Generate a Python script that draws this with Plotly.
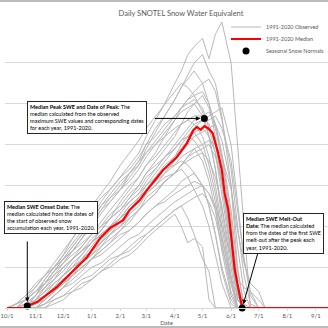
import plotly.graph_objects as go

# ---------------- data ----------------
# water-year calendar: Oct-Dec belong to 2021, Jan-Sep to 2022
GRID_DATES = ["10-01", "10-11", "10-21", "11-01", "11-11", "11-21", "12-01", "12-11", "12-21",
              "01-01", "01-11", "01-21", "02-01", "02-11", "02-21", "03-01", "03-11", "03-21",
              "04-01", "04-08", "04-15", "04-22", "05-01", "05-08", "05-15", "05-22",
              "06-01", "06-08", "06-15", "06-22", "07-01", "07-08"]

OBS_YEARS = list(range(1991, 2021))
OBS_SWE = [
    [0,0,1,3,6,9,12,15,18,22,26,29,32,35,38,42,46,50,55,58,62,64,66,61,67,70,60,40,18,0,0,0],
    [0,0,0,2,5,8,11,14,17,20,24,27,29,32,35,39,43,47,51,54,57,60,62,58,55,47,30,10,0,0,0,0],
    [0,0,2,4,6,9,12,14,17,21,24,26,29,33,36,40,44,47,51,54,56,58,55,50,42,30,14,2,0,0,0,0],
    [0,0,0,1,3,5,8,11,13,16,19,22,26,29,32,35,38,42,46,49,51,53,55,56,53,46,34,20,8,1,0,0],
    [0,1,3,5,8,11,14,17,21,25,28,31,35,38,41,44,47,50,53,55,54,52,48,42,34,22,8,0,0,0,0,0],
    [0,0,0,1,3,6,8,10,13,16,19,22,24,27,30,33,36,39,42,45,48,50,52,49,44,36,20,4,0,0,0,0],
    [0,0,1,3,6,9,11,14,17,20,23,26,29,31,34,37,40,43,46,48,49,50,47,42,34,24,10,0,0,0,0,0],
    [0,0,0,0,2,4,7,9,12,15,18,20,23,26,28,31,34,37,40,42,44,46,47,48,45,38,24,9,1,0,0,0],
    [0,0,0,2,4,6,8,10,12,14,16,19,22,25,27,30,33,36,39,41,43,45,46,46,47,44,36,24,12,4,0,0],
    [0,0,2,5,8,10,12,15,18,21,25,28,31,33,36,38,41,44,47,49,51,52,53,50,45,37,22,6,0,0,0,0],
    [0,1,2,4,7,10,13,16,19,22,25,27,30,33,35,38,40,42,44,45,46,45,42,37,30,20,7,0,0,0,0,0],
    [0,0,0,0,1,3,5,8,11,13,16,18,21,24,27,29,32,35,37,40,42,44,46,47,48,49,40,26,12,3,0,0],
    [0,0,0,3,7,10,13,17,20,24,27,29,32,34,37,40,42,45,47,49,50,51,49,44,38,28,13,2,0,0,0,0],
    [0,0,0,1,3,5,7,9,12,14,17,19,21,24,26,29,31,34,37,39,41,43,44,42,38,30,16,3,0,0,0,0],
    [0,0,1,3,5,7,10,12,14,17,19,22,24,27,29,32,34,37,39,41,42,41,38,33,26,16,4,0,0,0,0,0],
    [0,0,0,0,1,3,5,7,9,12,14,16,19,21,24,26,28,31,33,35,37,38,39,40,37,31,19,6,0,0,0,0],
    [0,1,3,6,8,10,12,14,16,18,20,23,25,28,30,33,35,37,39,41,42,43,40,35,28,18,6,0,0,0,0,0],
    [0,0,0,2,4,6,8,10,12,14,16,18,20,22,24,27,29,31,33,35,36,37,38,36,32,25,12,2,0,0,0,0],
    [0,0,0,0,2,4,6,9,11,13,15,18,20,23,25,28,30,33,36,38,40,42,43,44,45,41,30,15,4,0,0,0],
    [0,0,2,4,6,9,11,13,15,18,20,22,24,26,28,30,32,34,35,36,35,33,30,25,18,9,1,0,0,0,0,0],
    [0,0,0,1,2,4,6,8,10,12,15,17,19,22,24,26,28,31,33,35,37,39,40,41,40,37,29,19,11,6,4,0],
    [0,0,0,2,5,7,9,12,14,16,18,20,22,25,27,29,31,33,35,37,38,39,36,31,24,14,3,0,0,0,0,0],
    [0,0,0,1,2,4,6,8,10,12,13,15,17,19,21,23,25,27,29,31,32,33,30,25,18,10,2,0,0,0,0,0],
    [0,0,0,0,1,3,5,6,8,10,11,13,15,17,18,20,22,24,26,27,28,29,30,28,24,17,7,0,0,0,0,0],
    [0,1,2,4,6,8,10,12,14,16,18,20,22,24,26,28,30,32,33,34,32,29,25,20,13,6,0,0,0,0,0,0],
    [0,0,0,0,0,2,3,5,7,8,10,12,13,15,17,18,20,22,24,25,26,27,28,26,22,15,6,0,0,0,0,0],
    [0,0,0,2,3,5,7,8,10,12,14,16,18,19,21,23,25,26,28,29,30,31,30,28,25,20,13,7,5,4,2,0],
    [0,0,1,2,4,7,10,12,15,18,21,24,27,30,32,35,37,40,43,45,46,47,47,45,40,31,17,4,0,0,0,0],
    [0,0,0,0,1,2,3,4,6,7,9,10,12,13,15,17,19,21,23,20,16,17,15,2,0,0,0,0,0,0,0,0],
    [0,0,0,0,0,1,2,4,5,7,9,11,13,14,16,18,20,22,24,25,22,18,12,9,0,0,0,0,0,0,0,0],
]

MEDIAN_DATES = ["10-01", "10-19", "10-23", "11-03", "11-13", "11-24", "12-05", "12-16", "12-27",
                "01-10", "01-21", "02-04", "02-11", "02-22", "03-02", "03-19", "04-03", "04-14",
                "04-21", "04-25", "04-29", "05-03", "05-07", "05-12", "05-18", "05-22", "05-25",
                "05-29", "06-05", "06-13", "09-30"]
MEDIAN_SWE = [0, 0, 0.5, 1.5, 3.2, 5.1, 7.6, 10.0, 12.5,
              17.1, 19.6, 21.5, 24.0, 26.4, 28.9, 33.7, 36.9, 40.3,
              43.5, 44.3, 43.6, 44.5, 44.0, 42.8, 37.9, 33.7, 28.1,
              24.0, 9.3, 0, 0]

NORMAL_LABELS = ["Onset", "Peak", "Melt-Out"]
NORMAL_DATES = ["10-23", "05-03", "06-13"]
NORMAL_SWE = [0.5, 46.4, 0]

TITLE = "Daily SNOTEL Snow Water Equivalent"
X_TITLE = "Date"
LEGEND_NAMES = ["1991-2020 Observed", "1991-2020 Median", "Seasonal Snow Normals"]
NOTE_PEAK = ("<b>Median Peak SWE and Date of Peak:</b> The<br>median calculated from the observed<br>"
             "maximum SWE values and corresponding dates<br>for each year, 1991-2020.")
NOTE_ONSET = ("<b>Median SWE Onset Date:</b> The<br>median calculated from the dates of<br>"
              "the start of observed snow<br>accumulation each year, 1991-2020.")
NOTE_MELT = ("<b>Median SWE Melt-Out</b><br><b>Date:</b> The median calculated<br>"
             "from the dates of the first SWE<br>melt-out after the peak each<br>year, 1991-2020.")


def to_date(md):
    return ("2021-" if int(md[:2]) >= 10 else "2022-") + md


# ---------------- figure ----------------
W, H = 328, 328
ML, MR, MT, MB = 5, 0, 22, 20
PW, PH = W - ML - MR, H - MT - MB


def px(xp):
    return (xp - ML) / PW


def py(yp):
    return (H - MB - yp) / PH


FONT = "Lato, 'Open Sans', Arial, sans-serif"
fig = go.Figure()

grid_x = [to_date(d) for d in GRID_DATES]
for i, (yr, vals) in enumerate(zip(OBS_YEARS, OBS_SWE)):
    fig.add_trace(go.Scatter(
        x=grid_x, y=vals, mode="lines", name=LEGEND_NAMES[0],
        legendgroup="obs", showlegend=(i == 0), legend="legend",
        line=dict(color="#b8b8b8", width=1), hoverinfo="skip"))

fig.add_trace(go.Scatter(
    x=[to_date(d) for d in MEDIAN_DATES], y=MEDIAN_SWE, mode="lines",
    name=LEGEND_NAMES[1], legend="legend2",
    line=dict(color="#ff0000", width=2.2)))

fig.add_trace(go.Scatter(
    x=[to_date(d) for d in NORMAL_DATES], y=NORMAL_SWE, mode="markers",
    name=LEGEND_NAMES[2], legend="legend3", text=NORMAL_LABELS,
    marker=dict(color="#000000", size=7), cliponaxis=False))

LEG_X = 226
leg_common = dict(xanchor="left", yanchor="middle", bgcolor="rgba(0,0,0,0)",
                  borderwidth=0, font=dict(family=FONT, size=5.5, color="#595959"))

note_font = dict(family=FONT, size=5.5, color="#000000")
note_common = dict(xref="paper", yref="paper", xanchor="left", yanchor="top",
                   showarrow=False, align="left", bgcolor="#ffffff",
                   bordercolor="#262626", borderwidth=1, borderpad=2, font=note_font)
arrow_common = dict(xref="x", yref="y", text="", showarrow=True, arrowhead=2,
                    arrowsize=0.9, arrowwidth=1, arrowcolor="#000000", standoff=4)

fig.update_layout(
    width=W, height=H,
    margin=dict(l=ML, r=MR, t=MT, b=MB, autoexpand=False),
    paper_bgcolor="#ffffff", plot_bgcolor="#ffffff",
    font=dict(family=FONT, color="#595959", size=6),
    title=dict(text=TITLE, xref="container", yref="container",
               x=181 / W, y=1 - 13 / H, xanchor="center", yanchor="middle",
               font=dict(family=FONT, size=7.5, color="#595959")),
    showlegend=True,
    legend=dict(x=px(LEG_X), y=py(27), **leg_common),
    legend2=dict(x=px(LEG_X), y=py(39), **leg_common),
    legend3=dict(x=px(LEG_X), y=py(51), **leg_common),
    xaxis=dict(type="date", range=["2021-09-28 20:00", "2022-09-14 02:00"],
               tick0="2021-10-01", dtick="M1", tickformat="%-m/%-d",
               showgrid=False, zeroline=False, showline=True, linecolor="#d9d9d9",
               ticks="outside", ticklen=2, tickcolor="#d9d9d9",
               tickfont=dict(family=FONT, size=6, color="#595959"),
               title=dict(text=X_TITLE, standoff=2,
                          font=dict(family=FONT, size=6, color="#595959"))),
    yaxis=dict(range=[0, 70], dtick=10, showticklabels=False, showgrid=True,
               gridcolor="#d9d9d9", gridwidth=1, zeroline=False, showline=False,
               fixedrange=True),
    annotations=[
        dict(x=px(27), y=py(101), text=NOTE_PEAK, **note_common),
        dict(x=px(4), y=py(201), text=NOTE_ONSET, **note_common),
        dict(x=px(243), y=py(213), text=NOTE_MELT, **note_common),
        dict(x=to_date(NORMAL_DATES[1]), y=NORMAL_SWE[1], ax=-51, ay=0, **arrow_common),
        dict(x=to_date(NORMAL_DATES[0]), y=NORMAL_SWE[0], ax=0, ay=-66, **arrow_common),
        dict(x=to_date(NORMAL_DATES[2]), y=NORMAL_SWE[2], ax=16, ay=-56, **arrow_common),
    ],
    shapes=[
        dict(type="line", xref="paper", yref="paper", x0=px(0), x1=px(W), y0=py(1), y1=py(1),
             line=dict(color="#a6a6a6", width=1.5)),
        dict(type="line", xref="paper", yref="paper", x0=px(0), x1=px(W), y0=py(327), y1=py(327),
             line=dict(color="#a6a6a6", width=1.5)),
    ],
)

fig.write_html("out.html")
